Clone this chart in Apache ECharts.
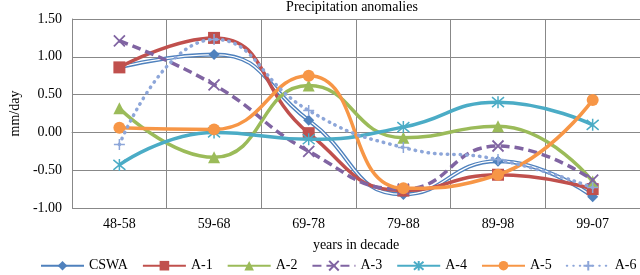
<!DOCTYPE html>
<html><head><meta charset="utf-8">
<script src="https://cdn.jsdelivr.net/npm/echarts@6/dist/echarts.min.js"></script>
<style>html,body{margin:0;padding:0;background:#fff}#c{width:640px;height:275px}</style>
</head><body><div id="c"></div>
<script>
var categories = ['48-58','59-68','69-78','79-88','89-98','99-07'];
var cswa = [0.86, 1.03, 0.16, -0.82, -0.38, -0.85];
var a1 = [0.86, 1.25, -0.01, -0.77, -0.56, -0.75];
var a2 = [0.32, -0.33, 0.62, -0.07, 0.08, -0.65];
var a3 = [1.21, 0.63, -0.25, -0.75, -0.18, -0.63];
var a4 = [-0.43, 0.00, -0.09, 0.07, 0.40, 0.10];
var a5 = [0.06, 0.04, 0.75, -0.74, -0.56, 0.43];
var a6 = [-0.16, 1.23, 0.29, -0.20, -0.36, -0.73];
var yTicks = [-1.0, -0.5, 0.0, 0.5, 1.0, 1.5];

var FONT = 'Liberation Serif';
var SM = 0.5;
var chart = echarts.init(document.getElementById('c'));
function ser(name, data, color, symbol, size, lineStyle, z, extra) {
  var s = {
    name: name, type: 'line', data: data, smooth: SM, z: z,
    symbol: symbol, symbolSize: size, showAllSymbol: true,
    lineStyle: Object.assign({color: color, width: 3}, lineStyle),
    itemStyle: {color: color, borderColor: color, borderWidth: 0},
    emphasis: {disabled: true}, animation: false
  };
  return Object.assign(s, extra || {});
}
var X = 'path://M0,0L10,10M10,0L0,10';
var AST = 'path://M5,-1L5,11M0,0L10,10M10,0L0,10';
var PLUS = 'path://M5,0L5,10M0,5L10,5';
chart.setOption({
  animation: false,
  title: {text: 'Precipitation anomalies', left: 347, textAlign: 'center', top: -5,
    textStyle: {fontFamily: FONT, fontSize: 14, fontWeight: 'normal', color: '#000'}},
  grid: {left: 60, right: 0, top: 19, bottom: 67},
  legend: {bottom: -3, left: 35, width: 700, itemWidth: 43, itemHeight: 12, itemGap: 14,
    textStyle: {fontFamily: FONT, fontSize: 14, color: '#000'},
    data: ['CSWA','A-1','A-2','A-3','A-4','A-5','A-6']},
  xAxis: {type: 'category', data: categories, boundaryGap: true,
    name: 'years in decade', nameLocation: 'middle', nameGap: 30,
    nameTextStyle: {fontFamily: FONT, fontSize: 14, color: '#000'},
    axisLine: {lineStyle: {color: '#888'}}, axisTick: {show: false},
    axisLabel: {fontFamily: FONT, fontSize: 14, color: '#000', margin: 9},
    splitLine: {show: true, interval: 0, lineStyle: {color: '#888', width: 1}}},
  yAxis: {type: 'value', min: yTicks[0], max: yTicks[yTicks.length-1], interval: 0.5,
    name: 'mm/day', nameLocation: 'middle', nameGap: 47, nameRotate: 90,
    nameTextStyle: {fontFamily: FONT, fontSize: 14, color: '#000'},
    axisLine: {show: true, lineStyle: {color: '#888'}}, axisTick: {show: false},
    axisLabel: {fontFamily: FONT, fontSize: 14, color: '#000', margin: 10,
      formatter: function(v){ return v.toFixed(2); }},
    splitLine: {show: true, lineStyle: {color: '#888', width: 1}}},
  series: [
    ser('CSWA', cswa, '#4F81BD', 'diamond', 11, {width: 4}, 2, {showSymbol: false}),
    ser('CSWA-in', cswa, '#ffffff', 'none', 0, {width: 1.3}, 2.1, {showSymbol: false, silent: true}),
    ser('CSWA', cswa, '#4F81BD', 'diamond', 11, {width: 0}, 2.2),
    ser('A-1', a1, '#C0504D', 'rect', 12, {width: 3.5}, 3),
    ser('A-2', a2, '#9BBB59', 'triangle', 12, {width: 3.5}, 4),
    ser('A-3', a3, '#8064A2', X, 11, {width: 3.5, type: [9, 5]}, 5,
      {itemStyle: {color: 'none', borderColor: '#8064A2', borderWidth: 1.8}}),
    ser('A-4', a4, '#4BACC6', AST, 12, {width: 3.5}, 6,
      {itemStyle: {color: 'none', borderColor: '#4BACC6', borderWidth: 1.5}}),
    ser('A-5', a5, '#F79646', 'circle', 12, {width: 3.5}, 7),
    ser('A-6', a6, '#8DA6D9', PLUS, 11, {width: 3.5, type: [0.5, 6], cap: 'round'}, 8,
      {itemStyle: {color: 'none', borderColor: '#8DA6D9', borderWidth: 1.5}})
  ]
});
</script></body></html>
